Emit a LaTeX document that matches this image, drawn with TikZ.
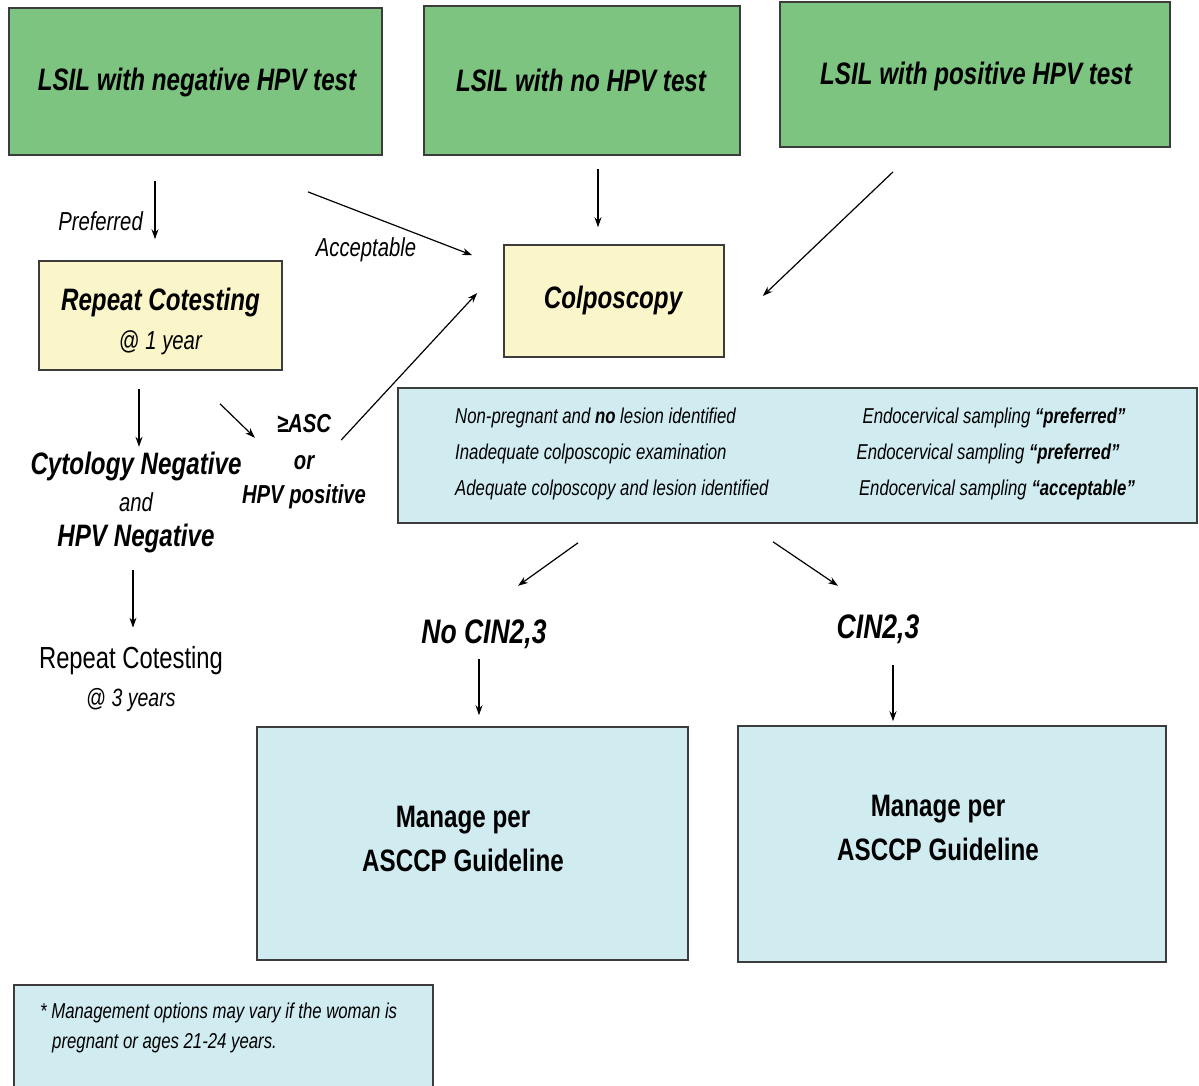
\documentclass[tikz,border=0pt]{standalone}
\usepackage{fontspec}
\setmainfont{Liberation Sans}[FakeStretch=0.78]
\usetikzlibrary{arrows.meta,calc}
\definecolor{boxgreen}{HTML}{7CC47F}
\definecolor{boxyellow}{HTML}{FBF6C9}
\definecolor{boxblue}{HTML}{D0ECF0}
\definecolor{edge}{HTML}{3C3C3C}
\tikzset{
  greenbox/.style={draw=edge, line width=1.8pt, fill=boxgreen, inner sep=0pt},
  yellowbox/.style={draw=edge, line width=1.6pt, fill=boxyellow, inner sep=0pt},
  bluebox/.style={draw=edge, line width=1.6pt, fill=boxblue, inner sep=0pt},
  arr/.style={line width=1.2pt, -{Stealth[length=10pt,width=7pt]}},
  txt/.style={inner sep=0pt, align=center},
}
\newcommand{\fs}[1]{\fontsize{#1}{#1}\selectfont}
\begin{document}
\begin{tikzpicture}[x=1pt,y=-1pt]
\useasboundingbox (0,0) rectangle (1199,1085);
\fill[white] (0,0) rectangle (1199,1085);

% top boxes
\node[greenbox, minimum width=373, minimum height=147] (b1) at (195.5,81.5) {};
\node[txt] (t1) at (197,82) {\fs{31}\bfseries\itshape LSIL with negative HPV test};
\node[greenbox, minimum width=316, minimum height=149] (b2) at (582,80.5) {};
\node[txt] (t2) at (581,80) {\fs{31}\bfseries\itshape LSIL with no HPV test};
\node[greenbox, minimum width=390, minimum height=145] (b3) at (975,74.5) {};
\node[txt] (t3) at (976,76) {\fs{31}\bfseries\itshape LSIL with positive HPV test};

% repeat cotesting box
\node[yellowbox, minimum width=243, minimum height=109] (rep) at (160.5,315.5) {};
\node[txt] (rept) at (160.5,302) {\fs{31}\bfseries\itshape Repeat Cotesting};
\node[txt] (repy) at (160.5,343) {\fs{26}@ \itshape 1 year};

% colposcopy
\node[yellowbox, minimum width=220, minimum height=112] (col) at (614,301) {};
\node[txt] (colt) at (613,300) {\fs{31}\bfseries\itshape Colposcopy};

% info box
\node[bluebox, minimum width=799, minimum height=135] (info) at (797.5,455.5) {};
\node[txt, anchor=west] (i1) at (455,418) {\fs{21.5}\itshape Non-pregnant and \textbf{no} lesion identified};
\node[txt, anchor=west] (i2) at (455,454) {\fs{21.5}\itshape Inadequate colposcopic examination};
\node[txt, anchor=west] (i3) at (455,490) {\fs{21.5}\itshape Adequate colposcopy and lesion identified};
\node[txt] (j1) at (994,418) {\fs{21.5}\itshape Endocervical sampling \textbf{“preferred”}};
\node[txt] (j2) at (988,454) {\fs{21.5}\itshape Endocervical sampling \textbf{“preferred”}};
\node[txt] (j3) at (997,490) {\fs{21.5}\itshape Endocervical sampling \textbf{“acceptable”}};

% left column texts
\node[txt, anchor=east] (pref) at (143,221) {\fs{26}\itshape Preferred};
\node[txt] (acc) at (366,250) {\fs{26}\itshape Acceptable};
\node[txt] (cyt) at (136,466) {\fs{31}\bfseries\itshape Cytology Negative};
\node[txt] (and) at (136,502) {\fs{26}\itshape and};
\node[txt] (hpvn) at (136,538) {\fs{31}\bfseries\itshape HPV Negative};
\node[txt] (asc) at (304,424) {\fs{26}\bfseries\itshape ≥ASC};
\node[txt] (or) at (304,463) {\fs{26}\bfseries\itshape or};
\node[txt] (hpvp) at (304,497) {\fs{26}\bfseries\itshape HPV positive};
\node[txt] (rep3) at (131,661) {\fs{30.5}Repeat Cotesting};
\node[txt] (rep3y) at (131,700) {\fs{25}@ \itshape 3 years};

% outcomes
\node[txt] (nocin) at (484,634) {\fs{34}\bfseries\itshape No CIN2,3};
\node[txt] (cin) at (878,629) {\fs{34}\bfseries\itshape CIN2,3};

\node[bluebox, minimum width=431, minimum height=233] (m1) at (472.5,843.5) {};
\node[txt] (m1t) at (463,839) {\fs{31}\bfseries Manage per\\[14pt]\fs{31}\bfseries ASCCP Guideline};
\node[bluebox, minimum width=428, minimum height=236] (m2) at (952,844) {};
\node[txt] (m2t) at (938,828) {\fs{31}\bfseries Manage per\\[14pt]\fs{31}\bfseries ASCCP Guideline};

% footnote
\node[bluebox, minimum width=419, minimum height=112, anchor=north west] (foot) at (13,984) {};
\node[txt, anchor=west, align=left] (foott) at (40,1028) {\fs{21.5}\itshape * Management options may vary if the woman is\\[10pt]\fs{21.5}\itshape\hspace*{12pt}pregnant or ages 21-24 years.};

% arrows
\draw[arr] ($(b1.south)+(-40.5,25)$) -- ($(rep.north)+(-5.5,-21)$);
\draw[arr] ($(b1.south)+(112.5,36)$) -- ($(col.north west)+(-31,11)$);
\draw[arr] ($(b2.south)+(16,13)$) -- ($(col.north)+(-16,-17)$);
\draw[arr] ($(b3.south)+(-82,24)$) -- ($(col.east)+(38,-5)$);
\draw[arr] ($(rep.south)+(-21.5,18)$) -- ($(rep.south)+(-21.5,76)$);
\draw[arr] ($(rep.south)+(59.5,33)$) -- ($(rep.south)+(94.5,67)$);
\draw[arr] ($(col.west)+(-162,139)$) -- ($(col.west)+(-26,-8)$);
\draw[arr] ($(hpvn.south)+(-3,17)$) -- ($(hpvn.south)+(-3,75)$);
\draw[arr] ($(info.south)+(-219.5,19)$) -- ($(info.south)+(-279.5,62)$);
\draw[arr] ($(info.south)+(-24.5,18)$) -- ($(info.south)+(40.5,62)$);
\draw[arr] ($(m1.north)+(6.5,-67)$) -- ($(m1.north)+(6.5,-11)$);
\draw[arr] ($(m2.north)+(-59,-60)$) -- ($(m2.north)+(-59,-4)$);
\end{tikzpicture}
\end{document}
